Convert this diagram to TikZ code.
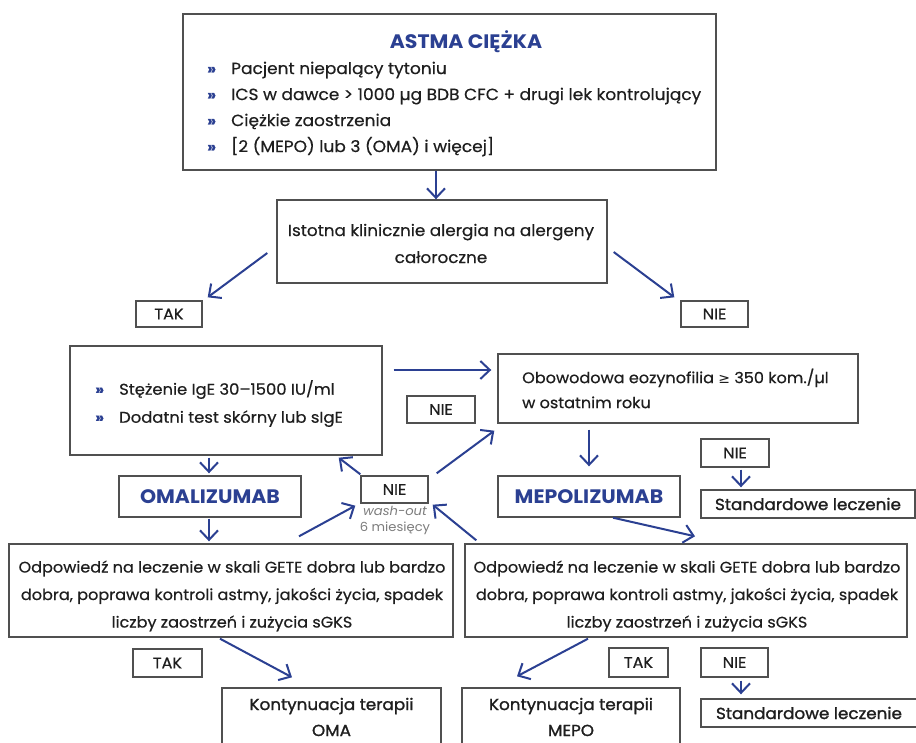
\documentclass[tikz,border=0pt]{standalone}
\usepackage{fontspec}
\setmainfont{Poppins}[FakeStretch=1.05]
\newfontfamily\bodyfont{Poppins}[FakeStretch=1.05, FakeBold=0.5]
\newfontfamily\semifont{Poppins}[FakeStretch=1.05, FakeBold=1.4]
\newfontfamily\symfont{DejaVu Sans}
\usetikzlibrary{arrows.meta}
\definecolor{navy}{RGB}{43,64,146}
\definecolor{frame}{RGB}{80,80,80}
\definecolor{ink}{RGB}{30,30,30}
\definecolor{note}{RGB}{125,125,125}

\tikzset{
  box/.style={draw=frame, line width=1.4pt, fill=white, inner sep=0pt, align=center,
    text=ink, font=\bodyfont\fontsize{15.3}{27.5}\selectfont},
  tag/.style={box, font=\bodyfont\fontsize{15.3}{18}\selectfont},
  plain/.style={box, font=\semifont\fontsize{16}{26}\selectfont},
  drug/.style={box, text=navy, font=\bfseries\fontsize{19.5}{22}\selectfont},
  txt/.style={inner sep=0pt, text=ink, align=left},
  flow/.style={draw=navy, line width=2pt,
    -{Straight Barb[length=9.5pt,width=18pt,line width=2pt]}},
}
\newcommand{\bul}{\makebox[24pt][l]{\color{navy}\bfseries\fontsize{15}{15}\selectfont»}}

\begin{document}
\begin{tikzpicture}[x=1pt,y=-1pt]
\useasboundingbox (0,0) rectangle (916,743);
\fill[white] (0,0) rectangle (916,743);

% entry criteria
\node[box, minimum width=533, minimum height=156] (top) at (449.5,92) {};
\node[text=navy, font=\bfseries\fontsize{19.5}{22}\selectfont] (title) at (466,42) {ASTMA CIĘŻKA};
\node[txt, anchor=west, font=\bodyfont\fontsize{16.2}{26}\selectfont]
  (crit) at (207,109) {\bul Pacjent niepalący tytoniu\\
  \bul ICS w dawce > 1000 µg BDB CFC + drugi lek kontrolujący\\
  \bul Ciężkie zaostrzenia\\
  \bul [2 (MEPO) lub 3 (OMA) i więcej]};

% allergy question
\node[box, minimum width=330, minimum height=83] (allergy) at (442,241.5) {};
\node[txt, align=center, font=\bodyfont\fontsize{16}{27}\selectfont]
  (allergytxt) at (441,243.5) {Istotna klinicznie alergia na alergeny\\całoroczne};
\node[tag, minimum width=66, minimum height=26] (tak1) at (169,314) {TAK};
\node[tag, minimum width=67, minimum height=26] (nie1) at (714.5,314) {NIE};

% omalizumab branch
\node[box, minimum width=312, minimum height=109] (ige) at (226,400.5) {};
\node[txt, anchor=west, font=\bodyfont\fontsize{15.6}{28}\selectfont]
  (igetxt) at (95,403.5) {\bul Stężenie IgE 30–1500 IU/ml\\ \bul Dodatni test skórny lub sIgE};
\node[drug, minimum width=182, minimum height=41] (oma) at (210,496.5) {OMALIZUMAB};

% mepolizumab branch
\node[box, minimum width=360, minimum height=69] (eoz) at (678,388.5) {};
\node[txt, anchor=west, font=\bodyfont\fontsize{15.3}{25}\selectfont]
  (eoztxt) at (522,388.5) {Obowodowa eozynofilia {\symfont\fontsize{14}{14}\selectfont ≥} 350 kom./µl\\w ostatnim roku};
\node[tag, minimum width=68, minimum height=27] (nie2) at (441,409.5) {NIE};
\node[drug, minimum width=182, minimum height=41] (mepo) at (589,496.5) {MEPOLIZUMAB};
\node[tag, minimum width=68, minimum height=28] (nie4) at (735,453) {NIE};
\node[plain, minimum width=214, minimum height=28] (std1) at (808,504) {Standardowe leczenie};

% switch between biologics
\node[tag, minimum width=67, minimum height=27] (nie3) at (394.5,489.5) {NIE};
\node[text=note, align=center, inner sep=0pt, font=\fontsize{12.5}{16}\selectfont]
  (washout) at (395,520.5) {{\itshape wash-out}\\6 miesięcy};

% response assessment
\node[box, minimum width=444, minimum height=93] (gete1) at (231,590.5) {};
\node[box, minimum width=442, minimum height=93] (gete2) at (686,590.5) {};
\node[txt, align=center, font=\bodyfont\fontsize{15.3}{27.5}\selectfont] (gete1txt) at (232,596)
  {Odpowiedź na leczenie w skali GETE dobra lub bardzo\\
   dobra, poprawa kontroli astmy, jakości życia, spadek\\
   liczby zaostrzeń i zużycia sGKS};
\node[txt, align=center, font=\bodyfont\fontsize{15.3}{27.5}\selectfont] (gete2txt) at (687,596)
  {Odpowiedź na leczenie w skali GETE dobra lub bardzo\\
   dobra, poprawa kontroli astmy, jakości życia, spadek\\
   liczby zaostrzeń i zużycia sGKS};

% outcomes
\node[tag, minimum width=69, minimum height=28] (tak2) at (167.5,663) {TAK};
\node[tag, minimum width=59, minimum height=29] (tak3) at (638.5,662.5) {TAK};
\node[tag, minimum width=67, minimum height=29] (nie5) at (734.5,662.5) {NIE};
\node[plain, minimum width=216, minimum height=28] (std2) at (809,713) {Standardowe leczenie};
\node[plain, minimum width=219, minimum height=58] (kont1) at (331.5,717) {Kontynuacja terapii\\OMA};
\node[plain, minimum width=218, minimum height=58] (kont2) at (571,717) {Kontynuacja terapii\\MEPO};

% connectors
\draw[flow] ([xshift=-13.5pt]top.south) -- ([xshift=-6pt]allergy.north);
\draw[flow] ([shift={(-9,11.5)}]allergy.west) -- ([shift={(5,-3)}]tak1.north east);
\draw[flow] ([shift={(6,10.5)}]allergy.east) -- ([shift={(-6,-3)}]nie1.north west);
\draw[flow] ([shift={(11,-30.5)}]ige.east) -- ([shift={(-6,-18.5)}]eoz.west);
\draw[flow] ([shift={(-17,2)}]ige.south) -- ([shift={(-1,-2)}]oma.north);
\draw[flow] ([shift={(-1,1)}]oma.south) -- ([shift={(-22,-2)}]gete1.north);
\draw[flow] ([shift={(0,-1)}]nie3.north west) -- ([shift={(-44,2)}]ige.south east);
\draw[flow] ([shift={(8,-2)}]nie3.north east) -- ([shift={(-3,7)}]eoz.south west);
\draw[flow] ([shift={(68,-7)}]gete1.north) -- ([shift={(-5,2)}]nie3.south west);
\draw[flow] ([shift={(12,-3)}]gete2.north west) -- ([shift={(4,1)}]nie3.south east);
\draw[flow] ([shift={(-89,6)}]eoz.south) -- ([shift={(0,-9)}]mepo.north);
\draw[flow] ([shift={(6,2)}]nie4.south) -- ([shift={(-67,-2)}]std1.north);
\draw[flow] ([shift={(24,0)}]mepo.south) -- ([shift={(9,-7)}]gete2.north);
\draw[flow] ([shift={(-11,1)}]gete1.south) -- ([shift={(-39.5,-10)}]kont1.north);
\draw[flow] ([shift={(-98,1)}]gete2.south) -- ([shift={(-54,-11)}]kont2.north);
\draw[flow] ([shift={(6.5,3)}]nie5.south) -- ([shift={(-68,-4)}]std2.north);
\end{tikzpicture}
\end{document}
